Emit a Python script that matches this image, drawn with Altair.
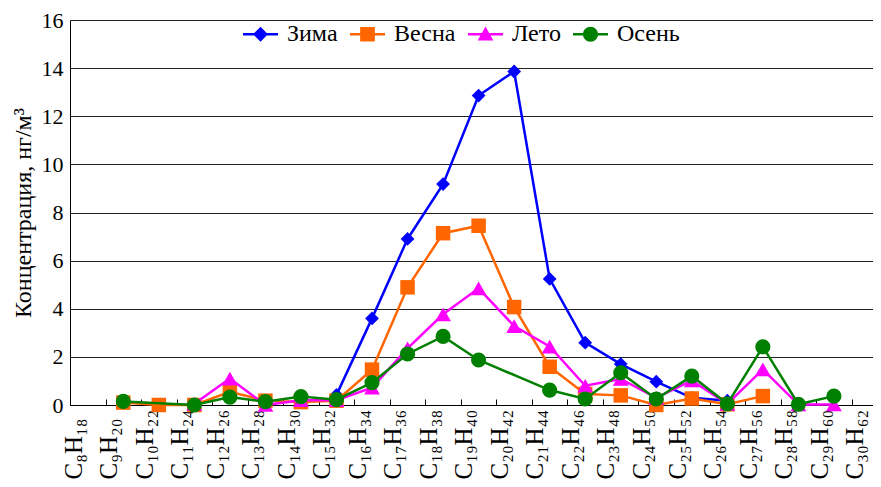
import json
import altair as alt
import pandas as pd

# ---- data -------------------------------------------------------------
labels = ["C₈H₁₈", "C₉H₂₀", "C₁₀H₂₂", "C₁₁H₂₄", "C₁₂H₂₆", "C₁₃H₂₈", "C₁₄H₃₀",
          "C₁₅H₃₂", "C₁₆H₃₄", "C₁₇H₃₆", "C₁₈H₃₈", "C₁₉H₄₀", "C₂₀H₄₂", "C₂₁H₄₄",
          "C₂₂H₄₆", "C₂₃H₄₈", "C₂₄H₅₀", "C₂₅H₅₂", "C₂₆H₅₄", "C₂₇H₅₆", "C₂₈H₅₈",
          "C₂₉H₆₀", "C₃₀H₆₂"]

positions = [1.5, 2.5, 3.5, 4.5, 5.5, 6.5, 7.5, 8.5, 9.5, 10.5, 11.5, 12.5,
             13.5, 14.5, 15.5, 16.5, 17.5, 18.5, 19.5, 20.5, 21.5]

seasons = ["Зима", "Весна", "Лето", "Осень"]

zima = [None, None, None, None, None, None, 0.42, 3.60, 6.90, 9.18, 12.86,
        13.86, 5.24, 2.59, 1.70, 0.97, 0.30, 0.18, None, None, None]
vesna = [0.10, 0.00, 0.00, 0.55, 0.18, 0.12, 0.18, 1.47, 4.89, 7.14, 7.45,
         4.07, 1.59, 0.46, 0.40, 0.00, 0.27, 0.03, 0.37, None, None]
leto = [None, None, 0.05, 1.10, 0.00, 0.20, 0.20, 0.72, 2.35, 3.77, 4.85,
        3.28, 2.43, 0.80, 1.08, 0.30, 1.02, 0.05, 1.48, 0.02, 0.02]
osen = [0.15, None, 0.00, 0.33, 0.14, 0.35, 0.22, 0.93, 2.12, 2.85, 1.87,
        None, 0.62, 0.25, 1.34, 0.25, 1.20, 0.05, 2.42, 0.03, 0.37]

series_values = [zima, vesna, leto, osen]

# ---- styles -----------------------------------------------------------
FONT = "'Liberation Serif', 'Times New Roman', serif"
colors = ["#0000FF", "#FF6600", "#FF00FF", "#008000"]
shapes = ["diamond", "square", "triangle-up", "circle"]
sizes = [190, 210, 250, 230]

# legend symbols: line segment with marker (unit box -1..1)
legend_paths = [
    "M-1,-0.075L-0.355,-0.075L0,-0.43L0.355,-0.075L1,-0.075L1,0.075L0.355,0.075L0,0.43L-0.355,0.075L-1,0.075Z",
    "M-1,-0.075L-0.42,-0.075L-0.42,-0.42L0.42,-0.42L0.42,-0.075L1,-0.075L1,0.075L0.42,0.075L0.42,0.42L-0.42,0.42L-0.42,0.075L-1,0.075Z",
    "M-1,-0.075L-0.21,-0.075L0,-0.45L0.21,-0.075L1,-0.075L1,0.075L0.29,0.075L0.45,0.35L-0.45,0.35L-0.29,0.075L-1,0.075Z",
    "M-1,-0.075L1,-0.075L1,0.075L-1,0.075Z M-0.43,0A0.43,0.43 0 1,1 0.43,0A0.43,0.43 0 1,1 -0.43,0Z",
]

rows = []
for name, vals in zip(seasons, series_values):
    for p, v in zip(positions, vals):
        if v is not None:
            rows.append({"pos": p, "value": v, "season": name})
df = pd.DataFrame(rows)

label_expr = json.dumps(labels, ensure_ascii=False) + "[datum.value]"

x_enc = alt.X(
    "pos:Q",
    scale=alt.Scale(domain=[0, 22.6], nice=False, zero=False),
    axis=alt.Axis(
        values=list(range(len(labels))),
        labelExpr=label_expr,
        labelAngle=270,
        labelAlign="left",
        labelBaseline="middle",
        labelPadding=80,
        labelOffset=3,
        labelFont=FONT,
        labelFontSize=25,
        labelColor="black",
        labelOverlap=False,
        labelFlush=False,
        tickSize={"expr": "-6"},
        tickColor="black",
        tickWidth=1,
        domainColor="black",
        domainWidth=1,
        grid=False,
        title=None,
    ),
)

y_enc = alt.Y(
    "value:Q",
    scale=alt.Scale(domain=[0, 16], nice=False, zero=True),
    axis=alt.Axis(
        values=list(range(0, 17, 2)),
        ticks=False,
        labelPadding=7,
        labelFont=FONT,
        labelFontSize=22,
        labelColor="black",
        gridColor="#222222",
        gridWidth=1,
        domainColor="black",
        domainWidth=1,
        title="Концентрация, нг/м³",
        titleFont=FONT,
        titleFontSize=24,
        titleFontWeight="normal",
        titleColor="black",
        titlePadding=6,
    ),
)

base = alt.Chart(df).encode(x=x_enc, y=y_enc)

layers = []
for name, col, shp, sz in zip(seasons, colors, shapes, sizes):
    layers.append(
        base.transform_filter(alt.datum.season == name).mark_line(
            color=col,
            strokeWidth=2.5,
            point=alt.OverlayMarkDef(filled=True, shape=shp, size=sz, color=col, opacity=1),
        )
    )

legend_def = alt.Legend(
    orient="none",
    legendX=173,
    legendY=-3.5,
    direction="horizontal",
    title=None,
    labelFont=FONT,
    labelFontSize=24,
    labelColor="black",
    labelOffset=9,
    columnPadding=12,
    symbolSize=1225,
    symbolStrokeWidth=0,
    symbolOpacity=1,
    padding=0,
)

legend_layer = alt.Chart(pd.DataFrame({"season": seasons})).mark_point(
    filled=True, opacity=0, size=1225
).encode(
    color=alt.Color("season:N", scale=alt.Scale(domain=seasons, range=colors), legend=legend_def),
    shape=alt.Shape("season:N", scale=alt.Scale(domain=seasons, range=legend_paths), legend=legend_def),
)

chart = alt.layer(*layers, legend_layer).properties(
    width=803,
    height=385,
    autosize=alt.AutoSizeParams(type="none"),
    padding={"left": 62, "top": 12, "right": 0, "bottom": 74},
).configure_view(stroke=None).configure(background="white")

chart.save("out.html", embed_options={"renderer": "svg", "actions": False})
